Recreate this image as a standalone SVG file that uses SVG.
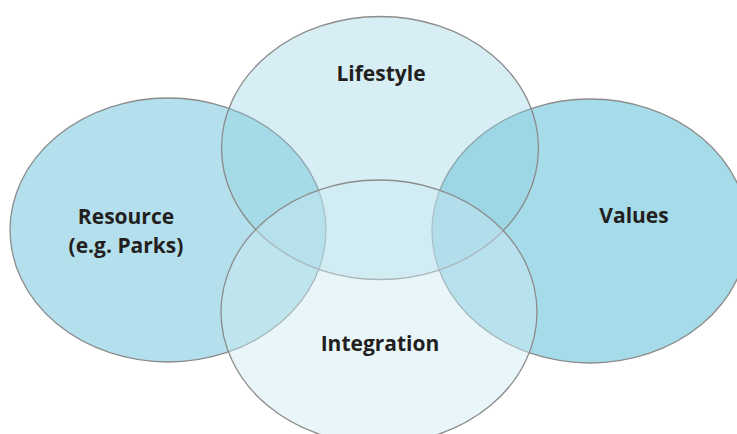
<svg xmlns="http://www.w3.org/2000/svg" width="737" height="434" viewBox="0 0 737 434">
<style>
.e{stroke:#8c8c8c;stroke-width:1.3}
.lbl{font-family:"Open Sans","Noto Sans","Liberation Sans",sans-serif;font-weight:700;font-size:21px;fill:#231f20;text-anchor:middle}
</style>
<rect width="737" height="434" fill="#ffffff"/>
<g id="resource">
<ellipse class="e" cx="168" cy="230" rx="158" ry="132" fill="#b3e0ec"/>
</g>
<g id="values">
<ellipse class="e" cx="590" cy="231" rx="158" ry="132" fill="#a6dbe9" stroke="#6f6f6f"/>
</g>
<g id="lifestyle">
<ellipse class="e" cx="380" cy="148" rx="158.5" ry="131.5" fill="#8ccde0" fill-opacity="0.35"/>
</g>
<g id="integration">
<ellipse class="e" cx="379" cy="312" rx="158" ry="132" fill="#cbe9f2" fill-opacity="0.45"/>
</g>
<g id="labels">
<text class="lbl" x="381" y="81">Lifestyle</text>
<text class="lbl" x="126" y="224">Resource</text>
<text class="lbl" x="126" y="253">(e.g. Parks)</text>
<text class="lbl" x="634" y="223">Values</text>
<text class="lbl" x="380" y="351">Integration</text>
</g>
</svg>
